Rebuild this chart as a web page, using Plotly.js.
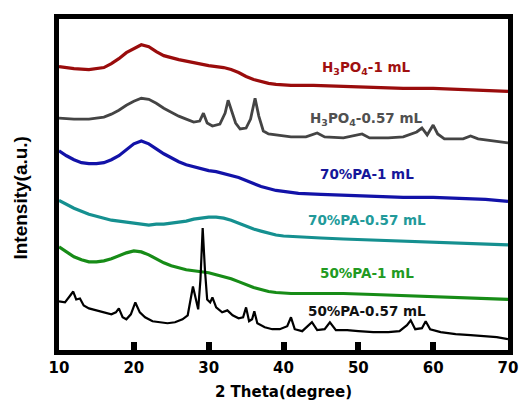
<!DOCTYPE html>
<html><head><meta charset="utf-8">
<script src="https://cdn.plot.ly/plotly-3.0.1.min.js"></script>
<style>html,body{margin:0;padding:0;background:#fff}#plot{width:522px;height:412px}</style>
</head><body><div id="plot"></div>
<script>
// Stacked XRD patterns (intensity in a.u., vertically offset)
const h3po4_1_x = [10,12,14,16,17,18,19,20,21,22,23,24,26,28,30,32,33,34,35,36,37,38,39,41,44,48,52,56,60,64,67,70];
const h3po4_1_y = [286,284,283,285,289,294,300,304,308,306,301,297,293,290,287,285,283,280,276,273,271,269,268,267,267,266,265,264,264,263,262,261];

const h3po4_057_x = [10,12,14,16,17,18,19,20,21,22,23,24,25,26,27,28,28.8,29.3,29.8,30.5,31.5,32.2,32.6,33,33.6,34.2,35,35.6,36.2,36.7,37.3,38,39,41,43,44.5,45.5,48,50.5,51.5,54,56,57.8,58.5,59.2,60,60.6,61.5,64,65,66,68,70];
const h3po4_057_y = [234,233,233,235,238,242,247,251,254,253,249,244,240,236,233,230,231,239,229,226,228,239,252,243,229,223,224,233,254,236,221,218,217,215,215,219,215,214,218,214,214,215,220,224,217,227,218,213,213,216,213,211,209];

const pa70_1_x = [10,11,12,13,14,15,16,17,18,19,20,21,22,23,24,25,26,27,28,29,30,31,32,33,34,35,36,37,38,39,40,42,45,48,52,56,60,64,67,70];
const pa70_1_y = [201,196,192,189,188,188,189,192,196,202,208,211,208,203,198,194,190,187,185,183,181,180,178,176,174,171,168,165,163,161,160,158,157,156,155,154,154,153,152,150];

const pa70_057_x = [10,11,12,13,14,15,16,17,18,19,20,21,22,23,24,25,26,27,28,29,30,31,32,33,34,35,36,37,38,39,40,42,45,48,52,56,60,64,67,70];
const pa70_057_y = [151,147,143,140,137,135,133,131,130,129,128,127,126,127,127,128,129,130,132,133,134,134,133,131,128,125,122,120,118,116,115,114,113,112,111,110,109,108,107,106];

const pa50_1_x = [10,11,12,13,14,15,16,17,18,19,20,21,22,23,24,25,26,27,28,29,30,31,32,33,34,35,36,37,38,39,41,44,48,52,56,60,64,67,70];
const pa50_1_y = [104,99,94,91,89,89,90,92,95,98,100,99,96,92,88,85,83,81,80,79,78,76,74,72,69,66,63,61,59,58,57,57,57,56,55,54,53,52,51];

const pa50_057_x = [10,10.8,11.5,11.9,12.3,12.8,13.3,14,15,16,17,17.6,18,18.5,19,19.6,20.2,20.8,21.5,22.5,23.5,24.5,25.5,26.5,27.2,27.6,27.9,28.3,28.6,28.9,29.2,29.5,29.8,30.2,30.5,31,31.8,32.5,33.2,34,34.6,35,35.4,35.8,36.1,36.5,37.5,38.5,39.5,40.5,41,41.5,42.5,43.8,44.5,45.5,46.2,47,48.5,50,52,54,55.5,56.5,57,57.6,58.5,59,59.6,61,63,65,67,68.5,70];
const pa50_057_y = [49,48,55,59,51,52,45,42,40,38,36,38,42,33,31,36,48,38,33,29,28,27,28,31,35,51,64,51,41,71,123,81,51,48,53,43,38,40,35,32,33,43,29,31,39,27,23,21,21,24,33,21,19,28,20,21,28,20,20,19,18,18,19,25,30,21,22,29,21,18,16,15,14,13,11];

const labels = ['H<sub>3</sub>PO<sub>4</sub>-1 mL','H<sub>3</sub>PO<sub>4</sub>-0.57 mL','70%PA-1 mL','70%PA-0.57 mL','50%PA-1 mL','50%PA-0.57 mL'];
const colors = ['#9a0c0c','#444444','#1212a8','#159090','#178c17','#000000'];
const labelColors = ['#a01010','#505050','#16169a','#229a9a','#229a22','#111111'];
const lineWidths = [3.2,2.8,3.2,3.2,3.2,2.2];
const labelPos = [285,233,178,131,78,39];

const xs = [h3po4_1_x,h3po4_057_x,pa70_1_x,pa70_057_x,pa50_1_x,pa50_057_x];
const ys = [h3po4_1_y,h3po4_057_y,pa70_1_y,pa70_057_y,pa50_1_y,pa50_057_y];

const traces = xs.map((x,i)=>({x:x,y:ys[i],type:'scatter',mode:'lines',line:{color:colors[i],width:lineWidths[i]},showlegend:false,hoverinfo:'skip'}));

const FH = 'DejaVu Sans, Verdana, sans-serif';
const annotations = labels.map((t,i)=>({x:51.1,y:labelPos[i],xref:'x',yref:'y',text:t,showarrow:false,xanchor:'center',yanchor:'middle',font:{family:FH,size:13.5,color:labelColors[i],weight:'bold'}}));
annotations.push({xref:'paper',yref:'paper',x:-0.085,y:0.46,text:'Intensity(a.u.)',textangle:-90,showarrow:false,xanchor:'center',yanchor:'middle',font:{family:'Liberation Sans, Arial, sans-serif',size:19,color:'#000',weight:'bold'}});

const layout = {
  width:522,height:412,
  margin:{l:59,r:14,t:19,b:62},
  paper_bgcolor:'#fff',plot_bgcolor:'#fff',
  font:{family:FH,color:'#000'},
  xaxis:{range:[10,70],dtick:10,tick0:10,showgrid:false,zeroline:false,showline:true,mirror:true,linewidth:5,linecolor:'#000',
    ticks:'inside',ticklen:8,tickwidth:6,tickcolor:'#000',
    tickfont:{size:15,weight:'bold',family:FH},
    title:{text:'2 Theta(degree)',font:{size:15,weight:'bold',family:FH},standoff:12}},
  yaxis:{range:[0,334],showgrid:false,zeroline:false,showline:true,mirror:true,linewidth:5,linecolor:'#000',
    showticklabels:false,ticks:''},
  annotations:annotations
};
Plotly.newPlot('plot',traces,layout,{displayModeBar:false,staticPlot:true});
</script></body></html>
